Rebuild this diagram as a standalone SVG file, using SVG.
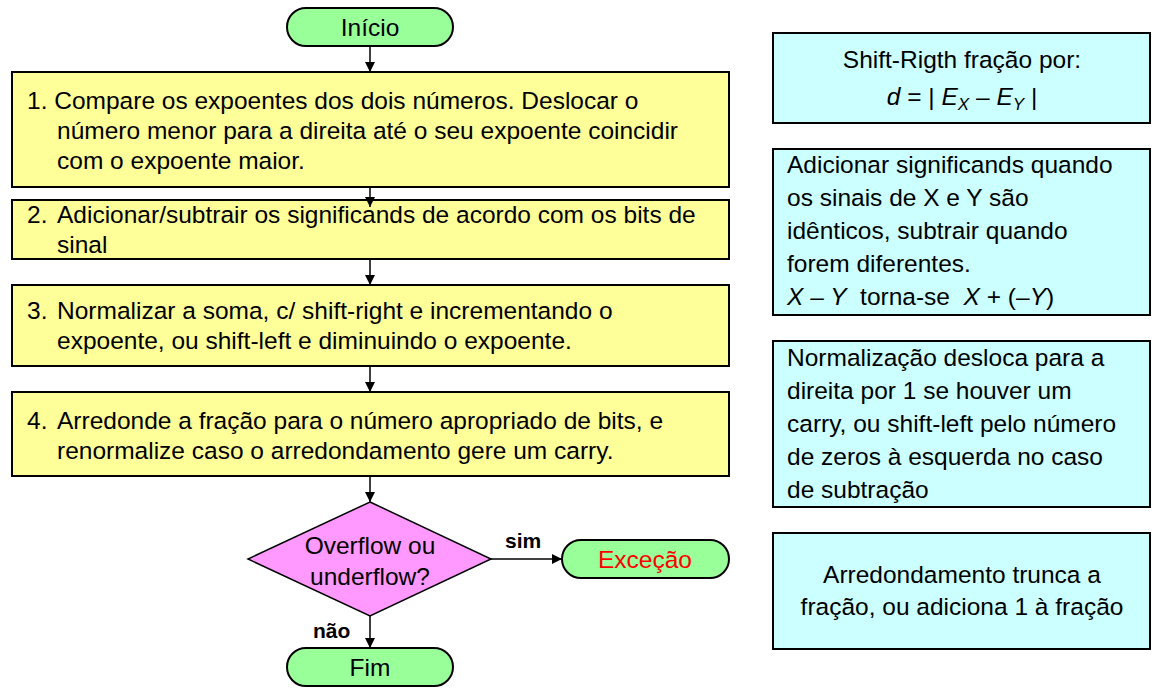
<svg xmlns="http://www.w3.org/2000/svg" width="1157" height="690" viewBox="0 0 1157 690">
<defs>
<marker id="ah" viewBox="0 0 10 10" refX="10" refY="5" markerWidth="10" markerHeight="10" markerUnits="userSpaceOnUse" orient="auto">
<path d="M0,0 L10,5 L0,10 z" fill="#000"/>
</marker>
<style>
text{font-family:"Liberation Sans",Arial,sans-serif;font-size:24.5px;fill:#000}
.term{fill:#99FF99;stroke:#000;stroke-width:2}
.proc{fill:#FFFF99;stroke:#000;stroke-width:2}
.note{fill:#CCFFFF;stroke:#000;stroke-width:2}
.dec{fill:#FF99FF;stroke:#000;stroke-width:1.5}
.c{text-anchor:middle}
.b{font-weight:bold;font-size:21px}
.i{font-style:italic}
.conn line{stroke:#000;stroke-width:1.5;marker-end:url(#ah)}
</style>
</defs>
<rect width="1157" height="690" fill="#fff"/>
<g id="inicio"><rect class="term" x="287" y="8" width="166" height="38" rx="19"/><text class="c" x="370" y="36">Início</text></g>
<g id="step1"><rect class="proc" x="12" y="72" width="717" height="115"/>
<text x="27" y="109">1. Compare os expoentes dos dois números. Deslocar o</text>
<text x="57" y="139">número menor para a direita até o seu expoente coincidir</text>
<text x="57" y="169">com o expoente maior.</text></g>
<g id="step2"><rect class="proc" x="12" y="200" width="717" height="59"/>
<text y="223"><tspan x="27">2.</tspan><tspan x="57">Adicionar/subtrair os significands de acordo com os bits de</tspan></text>
<text x="57" y="253">sinal</text></g>
<g id="step3"><rect class="proc" x="12" y="285" width="717" height="81"/>
<text y="319"><tspan x="27">3.</tspan><tspan x="57">Normalizar a soma, c/ shift-right e incrementando o</tspan></text>
<text x="57" y="349">expoente, ou shift-left e diminuindo o expoente.</text></g>
<g id="step4"><rect class="proc" x="12" y="392" width="717" height="84"/>
<text y="429"><tspan x="27">4.</tspan><tspan x="57">Arredonde a fração para o número apropriado de bits, e</tspan></text>
<text x="57" y="459">renormalize caso o arredondamento gere um carry.</text></g>
<g id="decisao"><polygon class="dec" points="370,502 491,559 370,616 248,559"/>
<text class="c" x="370" y="554">Overflow ou</text><text class="c" x="370" y="585">underflow?</text></g>
<g id="excecao"><rect class="term" x="562" y="540" width="167" height="38" rx="19"/><text class="c" x="645" y="568" style="fill:#FF0000">Exceção</text></g>
<g id="fim"><rect class="term" x="287" y="648" width="166" height="38" rx="19"/><text class="c" x="370" y="676">Fim</text></g>
<g id="noteA"><rect class="note" x="773" y="33" width="377" height="90"/>
<text class="c" x="962" y="68">Shift-Rigth fração por:</text>
<text class="c" x="962" y="105"><tspan class="i">d</tspan> = | <tspan class="i">E</tspan><tspan class="i" font-size="17" dy="5">X</tspan><tspan dy="-5"> – </tspan><tspan class="i">E</tspan><tspan class="i" font-size="17" dy="5">Y</tspan><tspan dy="-5"> |</tspan></text></g>
<g id="noteB"><rect class="note" x="773" y="149" width="377" height="166"/>
<text x="787" y="173">Adicionar significands quando</text>
<text x="787" y="206">os sinais de X e Y são</text>
<text x="787" y="239">idênticos, subtrair quando</text>
<text x="787" y="272">forem diferentes.</text>
<text x="787" y="305" xml:space="preserve"><tspan class="i">X – Y</tspan>  torna-se  <tspan class="i">X</tspan> + (–<tspan class="i">Y</tspan>)</text></g>
<g id="noteC"><rect class="note" x="773" y="341" width="377" height="166"/>
<text x="787" y="366">Normalização desloca para a</text>
<text x="787" y="399">direita por 1 se houver um</text>
<text x="787" y="432">carry, ou shift-left pelo número</text>
<text x="787" y="465">de zeros à esquerda no caso</text>
<text x="787" y="498">de subtração</text></g>
<g id="noteD"><rect class="note" x="773" y="533" width="377" height="116"/>
<text class="c" x="962" y="583">Arredondamento trunca a</text>
<text class="c" x="962" y="615">fração, ou adiciona 1 à fração</text></g>
<g id="connectors" class="conn">
<line x1="370" y1="46" x2="370" y2="72"/>
<line x1="370" y1="187" x2="370" y2="207"/>
<line x1="370" y1="259" x2="370" y2="285"/>
<line x1="370" y1="366" x2="370" y2="392"/>
<line x1="370" y1="476" x2="370" y2="502"/>
<line x1="491" y1="559" x2="562" y2="559"/>
<line x1="370" y1="616" x2="370" y2="648"/>
<text class="b" x="505" y="548">sim</text>
<text class="b" x="313" y="638">não</text>
</g>
</svg>
